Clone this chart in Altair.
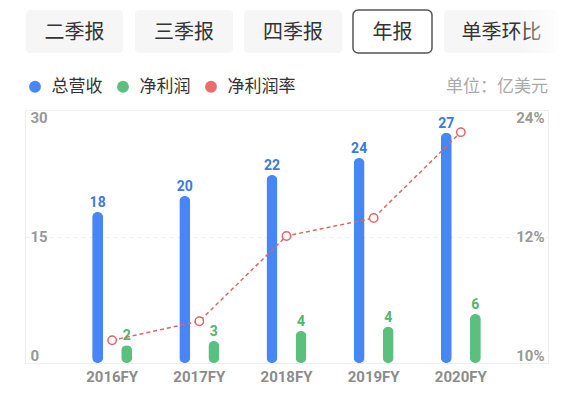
import altair as alt
import pandas as pd

# ---- data ----
years = ["2016FY", "2017FY", "2018FY", "2019FY", "2020FY"]
revenue = [17.9, 19.8, 22.3, 24.3, 27.3]
net_profit = [2.1, 2.6, 3.8, 4.3, 5.8]
net_margin = [10.36, 10.66, 12.05, 13.75, 21.9]
series_names = ["总营收", "净利润", "净利润率"]
tabs = ["二季报", "三季报", "四季报", "年报", "单季环比"]
selected_tab = "年报"
unit_text = "单位：亿美元"
left_ticks = [0, 15, 30]
right_ticks = [10, 12, 24]

# ---- styles / layout ----
series_colors = ["#4786f5", "#5bc07d", "#ee6b6b"]
label_colors = ["#3b79e3", "#50b56e"]
line_color = "#e06666"
W, H = 523, 253
tab_x0 = [1, 110, 219, 328, 419]
tab_x1 = [98, 208, 317, 407, 534]
CJK = "Noto Sans CJK SC"
NUM = "Roboto"

bars_df = pd.DataFrame({
    "year": years * 2,
    "series": [series_names[0]] * len(years) + [series_names[1]] * len(years),
    "value": revenue + net_profit,
})
line_df = pd.DataFrame({"year": years, "margin": net_margin})

x = alt.X("year:N", sort=years,
          scale=alt.Scale(paddingInner=0, paddingOuter=0.5),
          axis=alt.Axis(title=None, labelAngle=0, domain=False, ticks=False,
                        labelPadding=6, labelFont=NUM, labelFontSize=15,
                        labelFontWeight="bold", labelColor="#8c8c8c"))
xoff = alt.XOffset("series:N", sort=series_names[:2],
                   scale=alt.Scale(domain=series_names[:2], paddingInner=0, paddingOuter=0.5))
yL = alt.Y("value:Q", scale=alt.Scale(domain=[0, 30], nice=False),
           axis=alt.Axis(title=None, values=left_ticks, orient="left", domain=False,
                         ticks=False, labelAlign="left", labelPadding=-5, labelFlush=True,
                         labelFlushOffset=0,
                         grid=True, gridDash=[4, 4], gridColor="#eeeeee",
                         labelFont=NUM, labelFontSize=15, labelFontWeight="bold",
                         labelColor="#999999"))
yR = alt.Y("margin:Q",
           scale=alt.Scale(domain=right_ticks, range=[H, H / 2, 0], nice=False, zero=False),
           axis=alt.Axis(title=None, values=right_ticks, orient="right", domain=False,
                         ticks=False, grid=False, labelAlign="right", labelPadding=-4,
                         labelFlush=True, labelExpr="datum.value + '%'",
                         labelFont=NUM, labelFontSize=15, labelFontWeight="bold",
                         labelColor="#999999"))

bars = alt.Chart(bars_df).mark_bar(size=11, cornerRadius=5.5).encode(
    x=x, xOffset=xoff, y=yL,
    color=alt.Color("series:N",
                    scale=alt.Scale(domain=series_names, range=series_colors),
                    legend=alt.Legend(title=None, orient="none", legendX=1.5, legendY=-32,
                                      direction="horizontal", symbolType="circle",
                                      symbolSize=140, symbolStrokeWidth=0, symbolOpacity=1,
                                      labelFont=CJK, labelFontSize=17, labelColor="#333333",
                                      labelOffset=8, columnPadding=12, padding=0)),
)
labels = alt.Chart(bars_df).mark_text(baseline="bottom", dy=-2, font=NUM, fontSize=14,
                                      fontWeight="bold").encode(
    x=x, xOffset=xoff, y=yL,
    text=alt.Text("value:Q", format=".0f"),
    color=alt.condition(f"datum.series == '{series_names[0]}'",
                        alt.value(label_colors[0]), alt.value(label_colors[1])),
)
line = alt.Chart(line_df).mark_line(color=line_color, strokeDash=[4, 3], strokeWidth=1.5).encode(
    x=x, y=yR)
pts = alt.Chart(line_df).mark_point(shape="circle", size=70, fill="white", fillOpacity=1,
                                    stroke=line_color, strokeWidth=1.5, opacity=1).encode(
    x=x, y=yR)

left = alt.layer(bars, labels)
right = alt.layer(line, pts)

deco = []
for name, a, b in zip(tabs, tab_x0, tab_x1):
    sel = name == selected_tab
    d = pd.DataFrame({"t": [name]})
    rect = alt.Chart(d).mark_rect(
        fill="white" if sel else "#f6f6f6",
        stroke="#555555" if sel else "#f6f6f6",
        strokeWidth=1.5 if sel else 0,
        cornerRadius=5 if sel else 4,
    ).encode(x=alt.value(a), x2=alt.value(b), y=alt.value(-100), y2=alt.value(-57))
    txt = alt.Chart(d).mark_text(font=CJK, fontSize=20, color="#333333",
                                 align="center", baseline="middle").encode(
        x=alt.value((a + b) / 2), y=alt.value(-77), text="t:N")
    deco += [rect, txt]

fade = alt.Chart(pd.DataFrame({"t": [""]})).mark_rect(
    color=alt.LinearGradient(gradient="linear", x1=0, x2=1, y1=0, y2=0,
                             stops=[alt.GradientStop(color="rgba(255,255,255,0)", offset=0),
                                    alt.GradientStop(color="rgba(255,255,255,0.95)", offset=1)])
).encode(x=alt.value(492), x2=alt.value(541), y=alt.value(-102), y2=alt.value(-55))
deco.append(fade)

unit = alt.Chart(pd.DataFrame({"t": [unit_text]})).mark_text(
    align="right", baseline="middle", font=CJK, fontSize=17, color="#aaaaaa").encode(
    x=alt.value(W), y=alt.value(-23), text="t:N")
deco.append(unit)

chart = alt.layer(left, right, *deco).resolve_scale(y="independent").properties(
    width=W, height=H,
    padding={"left": 25, "top": 110, "right": 18, "bottom": 30},
    autosize=alt.AutoSizeParams(type="none"),
    background="white",
).configure_view(stroke="#eeeeee", strokeWidth=1)

chart.save("out.html", embed_options={"renderer": "svg", "actions": False})
